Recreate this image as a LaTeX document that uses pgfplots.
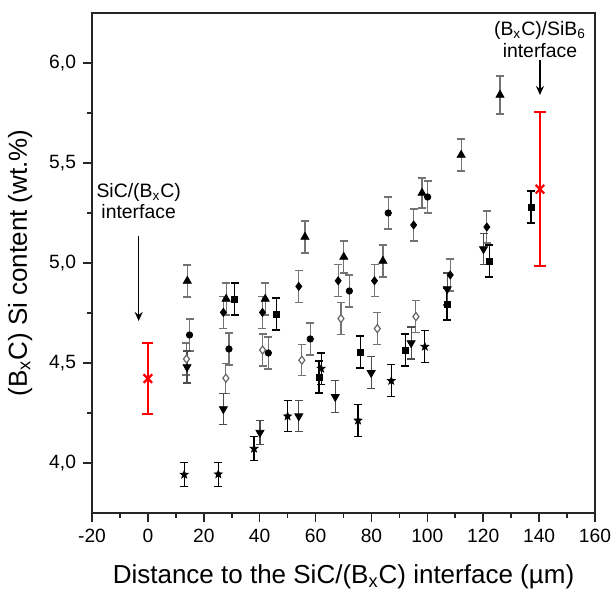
\documentclass[border=0pt]{standalone}
\usepackage{fontspec}
\setmainfont{Liberation Sans}
\usepackage{pgfplots}
\usepackage{pgfplotstable}
\pgfplotsset{compat=1.18}
\usetikzlibrary{arrows.meta}

\pgfdeclareplotmark{fstar}{%
 \pgfpathmoveto{\pgfpointpolar{90}{\pgfplotmarksize}}%
 \pgfpathlineto{\pgfpointpolar{126}{0.42\pgfplotmarksize}}%
 \pgfpathlineto{\pgfpointpolar{162}{\pgfplotmarksize}}%
 \pgfpathlineto{\pgfpointpolar{198}{0.42\pgfplotmarksize}}%
 \pgfpathlineto{\pgfpointpolar{234}{\pgfplotmarksize}}%
 \pgfpathlineto{\pgfpointpolar{270}{0.42\pgfplotmarksize}}%
 \pgfpathlineto{\pgfpointpolar{306}{\pgfplotmarksize}}%
 \pgfpathlineto{\pgfpointpolar{342}{0.42\pgfplotmarksize}}%
 \pgfpathlineto{\pgfpointpolar{18}{\pgfplotmarksize}}%
 \pgfpathlineto{\pgfpointpolar{54}{0.42\pgfplotmarksize}}%
 \pgfpathclose\pgfusepathqfillstroke}

\pgfplotstableread{
x y e
14.1 4.91 0.08
28.0 4.82 0.08
42.0 4.82 0.08
56.2 5.13 0.08
70.1 5.03 0.08
84.1 5.01 0.08
98.1 5.35 0.075
112.1 5.54 0.08
126.0 5.84 0.095
}\triup

\pgfplotstableread{
x y e
14.9 4.64 0.08
29.0 4.57 0.08
43.1 4.55 0.08
58.1 4.62 0.08
72.1 4.86 0.08
86.0 5.25 0.08
100.1 5.33 0.08
}\circ

\pgfplotstableread{
x y e
31.0 4.82 0.08
46.0 4.745 0.08
61.2 4.43 0.08
76.0 4.555 0.08
92.1 4.565 0.08
107.0 4.795 0.08
122.2 5.01 0.08
137.1 5.28 0.08
}\squ

\pgfplotstableread{
x y e
27.0 4.753 0.08
41.0 4.753 0.08
54.0 4.883 0.08
68.1 4.911 0.08
81.1 4.911 0.08
95.1 5.19 0.08
108.2 4.94 0.08
121.3 5.18 0.08
}\diam

\pgfplotstableread{
x y e
13.8 4.52 0.08
27.9 4.424 0.075
41.05 4.565 0.08
55.1 4.514 0.077
69.1 4.722 0.08
82.1 4.672 0.08
95.9 4.732 0.08
}\odiam

\pgfplotstableread{
x y e
14.0 4.48 0.08
27.0 4.27 0.078
40.1 4.152 0.06
54.0 4.234 0.077
67.05 4.331 0.08
79.9 4.451 0.08
94.2 4.60 0.08
107.1 4.87 0.08
120.1 5.07 0.078
}\tridown

\pgfplotstableread{
x y e
13.0 3.942 0.06
25.2 3.944 0.06
38.0 4.072 0.06
50.0 4.234 0.077
62.0 4.472 0.078
75.2 4.213 0.08
87.1 4.411 0.08
99.1 4.582 0.08
}\stardata

\pgfplotstableread{
x y e
0 4.422 0.178
140.3 5.369 0.385
}\redx

\begin{document}
\begin{tikzpicture}
\useasboundingbox (-46pt,-42pt) rectangle (261pt,256.5pt);
\begin{axis}[
  scale only axis, width=251.5pt, height=250pt,
  xmin=-20, xmax=160, ymin=3.75, ymax=6.25,
  xtick={-20,0,20,40,60,80,100,120,140,160},
  ytick={4,4.5,5,5.5,6},
  minor x tick num=1, minor y tick num=1,
  tick align=outside, tick pos=left,
  major tick length=4.5pt, minor tick length=2.5pt,
  axis line style={line width=1pt, black!85},
  every tick/.style={black!85, line width=0.8pt},
  /pgf/number format/assume math mode=true,
  yticklabel style={/pgf/number format/.cd, fixed, fixed zerofill, precision=1, use comma},
  xticklabel style={/pgf/number format/.cd, fixed, precision=0},
  tick label style={font=\fontsize{9.6}{11}\selectfont},
  label style={font=\fontsize{13}{14}\selectfont},
  xlabel={Distance to the SiC/(B\textsubscript{x}C) interface (µm)},
  ylabel={(B\textsubscript{x}C) Si content (wt.\%)},
  xlabel style={at={(axis description cs:0.5,0)}, yshift=-32pt, anchor=center},
  ylabel style={at={(axis description cs:-0.1431,0.5)}, anchor=center},
  clip=false,
]
\draw[line width=1pt, black!85] (rel axis cs:0,0) rectangle (rel axis cs:1,1);
\addplot[only marks, mark=triangle*, mark size=2.3pt, black,
  error bars/.cd, y dir=both, y explicit,
  error bar style={line width=0.6pt, black!55},
  error mark options={rotate=90, mark size=2pt, line width=0.6pt, black!55}]
  table[x=x, y=y, y error=e] {\triup};
\addplot[only marks, mark=*, mark size=1.6pt, black,
  error bars/.cd, y dir=both, y explicit,
  error bar style={line width=0.6pt, black!55},
  error mark options={rotate=90, mark size=2pt, line width=0.6pt, black!55}]
  table[x=x, y=y, y error=e] {\circ};
\addplot[only marks, mark=square*, mark size=1.5pt, black,
  error bars/.cd, y dir=both, y explicit,
  error bar style={line width=0.6pt, black},
  error mark options={rotate=90, mark size=2pt, line width=0.6pt, black}]
  table[x=x, y=y, y error=e] {\squ};
\addplot[only marks, mark=diamond*, mark size=2pt, black,
  error bars/.cd, y dir=both, y explicit,
  error bar style={line width=0.6pt, black!55},
  error mark options={rotate=90, mark size=2pt, line width=0.6pt, black!55}]
  table[x=x, y=y, y error=e] {\diam};
\addplot[only marks, mark=diamond*, mark size=2pt, black!60, mark options={fill=white, line width=0.6pt},
  error bars/.cd, y dir=both, y explicit,
  error bar style={line width=0.6pt, black!55},
  error mark options={rotate=90, mark size=2pt, line width=0.6pt, black!55}]
  table[x=x, y=y, y error=e] {\odiam};
\addplot[only marks, mark=triangle*, mark size=2.3pt, black, mark options={rotate=180},
  error bars/.cd, y dir=both, y explicit,
  error bar style={line width=0.6pt, black!70},
  error mark options={rotate=90, mark size=2pt, line width=0.6pt, black!70}]
  table[x=x, y=y, y error=e] {\tridown};
\addplot[only marks, mark=fstar, mark size=2pt, black,
  error bars/.cd, y dir=both, y explicit,
  error bar style={line width=0.6pt, black},
  error mark options={rotate=90, mark size=2pt, line width=0.6pt, black}]
  table[x=x, y=y, y error=e] {\stardata};
\addplot[only marks, mark=x, mark size=3pt, red, mark options={line width=1.1pt},
  error bars/.cd, y dir=both, y explicit,
  error bar style={line width=0.8pt, red},
  error mark options={rotate=90, mark size=2.8pt, line width=0.8pt, red}]
  table[x=x, y=y, y error=e] {\redx};

\draw[-{Stealth[length=4.5pt,width=4pt]}, line width=0.7pt] (axis cs:-3.3,5.135) -- (axis cs:-3.3,4.71);
\node[align=center, inner sep=0pt, font=\fontsize{9.7}{10.8}\selectfont] at (axis cs:-3.3,5.31) {SiC/(B\textsubscript{x}C)\\interface};
\draw[-{Stealth[length=4.5pt,width=4pt]}, line width=0.7pt] (axis cs:140.3,6.013) -- (axis cs:140.3,5.84);
\node[align=center, inner sep=0pt, font=\fontsize{9.7}{10.8}\selectfont] at (axis cs:140.3,6.118) {(B\textsubscript{x}C)/SiB\textsubscript{6}\\interface};
\end{axis}
\end{tikzpicture}
\end{document}
